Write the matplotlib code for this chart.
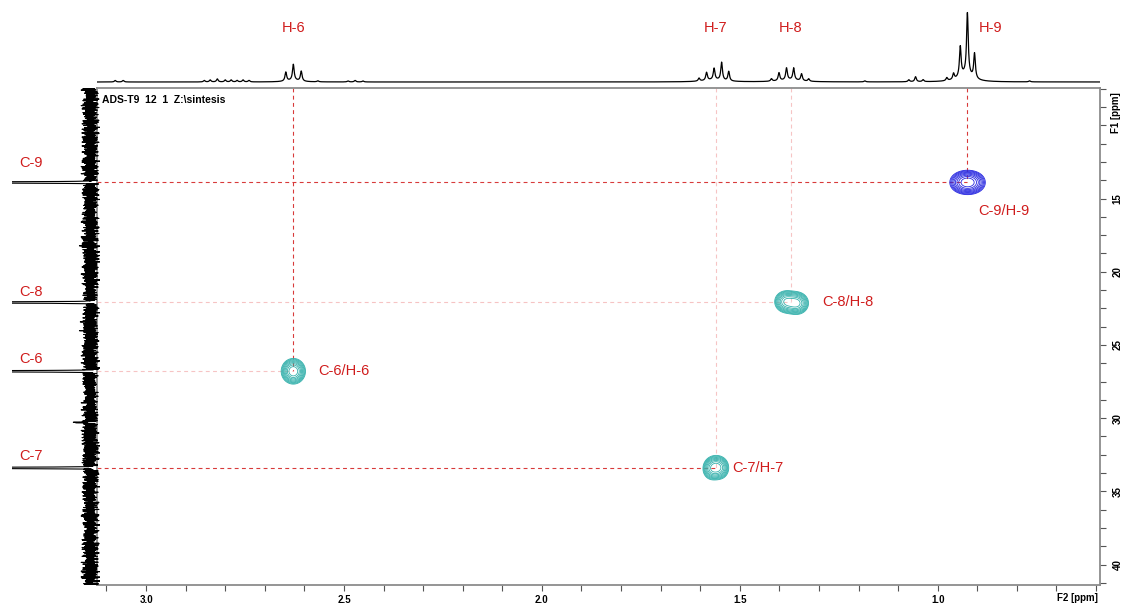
import numpy as np
import matplotlib
matplotlib.use("Agg")
import matplotlib.pyplot as plt
from matplotlib.ticker import MultipleLocator, FixedLocator
from matplotlib.transforms import blended_transform_factory as blend

plt.rcParams["font.family"] = ["Liberation Sans", "DejaVu Sans"]

# ---------------- data ----------------
# 1H projection: multiplet lines (ppm) and heights
h6_ppm = [2.647, 2.628, 2.608]
h6_int = [9, 16, 10]
h7_ppm = [1.603, 1.584, 1.565, 1.546, 1.528]
h7_int = [3, 8, 11.5, 18, 9.5]
h8_ppm = [1.420, 1.401, 1.382, 1.364, 1.344, 1.326]
h8_int = [2.5, 8, 12, 12, 7, 2.5]
h9_ppm = [0.977, 0.960, 0.943, 0.925, 0.907]
h9_int = [3, 6, 30, 62, 25]
minor_ppm = [3.078, 3.058, 2.853, 2.838, 2.820, 2.800, 2.785, 2.770, 2.755,
             2.740, 2.566, 2.490, 2.472, 2.452, 1.184, 1.073, 1.056, 1.037, 0.768]
minor_int = [1.5, 1.5, 1.5, 2, 3, 2, 2, 1.5, 2, 1.5, 1, 1, 1.5, 1, 1, 2, 5, 2, 1]
broad_ppm = [0.930, 1.565, 1.373, 2.628]
broad_int = [7, 2, 2, 1.5]
broad_w = [0.020, 0.030, 0.030, 0.020]

# 13C projection
c_labels = ["C-9", "C-8", "C-6", "C-7"]
c_ppm = [13.9, 22.1, 26.8, 33.4]
c_int = [300, 300, 300, 300]
c_extra_ppm = [30.3]
c_extra_int = [14]
c_noise_a = [3, -4, 6, -2, 5, -6, 1, 4, -5, 2, -3, 7, -1, -6, 3, 5, -4, 0, 6,
             -3, 2, -7, 4, -2, 5, -5, 1, 3, -6, 4, -1, 6, -4, 2, -2, 5, -3]
c_noise_b = [2, -1, -3, 1, 3, -2, 0, 2, -3, 1, -1, 3, -2, 2, 0, -3, 1, 2, -1,
             -2, 3, 0, -2]
c_noise_c = [-1, 2, 0, -2, 1, 3, -3, 0, 2, -1, -2, 1, 0, 3, -1, -3, 2, 1, -2,
             0, 1, -1, 3, -2, 0, 2, -3, 1, -1]

# HSQC cross peaks
h_labels = ["H-9", "H-8", "H-6", "H-7"]
xpk_labels = ["C-9/H-9", "C-8/H-8", "C-6/H-6", "C-7/H-7"]
xpk_h = [0.925, 1.371, 2.628, 1.561]
xpk_c = [13.9, 22.1, 26.8, 33.4]
xpk_sign = [1, -1, -1, -1]          # CH3 positive, CH2 negative (edited HSQC)
xpk_dh = [[-0.018, 0.0, 0.018], [-0.015, 0.012], [0.0], [-0.013, 0.0, 0.012]]
xpk_dc = [[0.0, 0.0, 0.0], [0.05, -0.05], [0.0], [0.0, -0.05, 0.05]]
xpk_w = [[0.5, 1.0, 0.45], [1.0, 0.9], [1.0], [0.8, 1.0, 0.8]]
xpk_sx = [0.016, 0.014, 0.014, 0.011]
xpk_sy = [0.38, 0.36, 0.40, 0.38]

f2_lim = (3.124, 0.59)
f1_lim = (41.4, 7.45)

# ---------------- figure ----------------
W, H = 1125, 606
fig = plt.figure(figsize=(W / 100, H / 100), dpi=100)
ax = fig.add_axes([97 / W, 1 - 585 / H, 1003 / W, 497 / H])
ax_top = fig.add_axes([97 / W, 1 - 86 / H, 1003 / W, 78 / H])
ax_left = fig.add_axes([12 / W, 1 - 585 / H, 88 / W, 497 / H])

red = "#d01c1c"
dark_dash = "#d83a3a"
faint_dash = "#f6c4c4"

# ---- 1H projection ----
def lor(x, x0, h, w):
    return h * w ** 2 / ((x - x0) ** 2 + w ** 2)

def gau(x, x0, h, s):
    return h * np.exp(-((x - x0) ** 2) / (2 * s ** 2))

xg = np.linspace(f2_lim[0], f2_lim[1], 8000)
spec = np.zeros_like(xg)
for pp, ii in [(h6_ppm, h6_int), (h7_ppm, h7_int), (h8_ppm, h8_int),
               (h9_ppm, h9_int), (minor_ppm, minor_int)]:
    for p, i in zip(pp, ii):
        spec += lor(xg, p, i, 0.0025)
for p, i, w in zip(broad_ppm, broad_int, broad_w):
    spec += lor(xg, p, i, w)
ax_top.plot(xg, spec, color="black", lw=0.9)
ax_top.set_xlim(*f2_lim)
ax_top.set_ylim(-4, 74)
ax_top.axis("off")

top_label_ppm = [0.925, 1.371, 2.628, 1.561]
top_label_dx = [23, 0, 0, 0]
for lab, p, dx in zip(h_labels, top_label_ppm, top_label_dx):
    ax_top.annotate(lab, xy=(p, 0.744), xycoords=blend(ax_top.transData, ax_top.transAxes),
                    xytext=(dx, 0), textcoords="offset pixels",
                    ha="center", va="center", color=red, fontsize=10.5)

# ---- 13C projection ----
yg = np.linspace(f1_lim[1], f1_lim[0], 2600)
n = len(yg)
cspec = 0.85 * (np.resize(np.array(c_noise_a, float), n)
                + np.resize(np.array(c_noise_b, float), n)
                + np.resize(np.array(c_noise_c, float), n))
for p, i in zip(c_ppm, c_int):
    cspec += gau(yg, p, i, 0.03)
for p, i in zip(c_extra_ppm, c_extra_int):
    cspec += gau(yg, p, i, 0.03)
ax_left.plot(cspec, yg, color="black", lw=0.8)
ax_left.set_xlim(78.5, -9.5)
ax_left.set_ylim(*f1_lim)
ax_left.axis("off")
ax_left.patch.set_visible(False)

c_label_dy = [19, 10, 12, 12]
for lab, p, dy in zip(c_labels, c_ppm, c_label_dy):
    ax_left.annotate(lab, xy=(0.085, p), xycoords=blend(ax_left.transAxes, ax_left.transData),
                     xytext=(0, dy), textcoords="offset pixels",
                     ha="left", va="center", color=red, fontsize=10.5)

# ---- 2D HSQC ----
X, Y = np.meshgrid(np.linspace(f2_lim[0], f2_lim[1], 1600),
                   np.linspace(f1_lim[1], f1_lim[0], 900))
Z = np.zeros_like(X)
for h, c, s, dhs, dcs, ws, sx, sy in zip(xpk_h, xpk_c, xpk_sign, xpk_dh, xpk_dc,
                                          xpk_w, xpk_sx, xpk_sy):
    z = np.zeros_like(X)
    for dh, dc, w in zip(dhs, dcs, ws):
        z += w * np.exp(-((X - h - dh) ** 2) / (2 * sx ** 2) - ((Y - c - dc) ** 2) / (2 * sy ** 2))
    Z += s * z / z.max()

levels = [0.09 * 1.3 ** k for k in range(9)]
ax.contour(X, Y, Z, levels=levels, colors="#2525e0", linewidths=0.6)
ax.contour(X, Y, Z, levels=sorted(-v for v in levels), colors="#33b0ab",
           linewidths=0.6, linestyles="solid")

# dashed correlation lines
v_dark = [True, False, True, False]
h_dark = [True, False, False, True]
for h, c, vd, hd in zip(xpk_h, xpk_c, v_dark, h_dark):
    ax.plot([h, h], [f1_lim[1], c], color=dark_dash if vd else faint_dash,
            lw=0.8, ls=(0, (3.5, 3)), zorder=1)
    ax.plot([f2_lim[0], h], [c, c], color=dark_dash if hd else faint_dash,
            lw=0.8, ls=(0, (3.5, 3)), zorder=1)

xpk_off = [(11, -29), (31, 0), (25, 0), (17, 0)]
for lab, h, c, off in zip(xpk_labels, xpk_h, xpk_c, xpk_off):
    ax.annotate(lab, xy=(h, c), xytext=off, textcoords="offset pixels",
                ha="left", va="center", color=red, fontsize=10.5)

ax.text(0.005, 0.976, r"ADS-T9  12  1  Z:\sintesis", transform=ax.transAxes,
        fontsize=7.5, fontweight="bold", va="center", ha="left")

ax.set_xlim(*f2_lim)
ax.set_ylim(*f1_lim)
ax.xaxis.set_major_locator(FixedLocator([3.0, 2.5, 2.0, 1.5, 1.0]))
ax.xaxis.set_minor_locator(MultipleLocator(0.1))
ax.yaxis.set_major_locator(FixedLocator([15, 20, 25, 30, 35, 40]))
ax.yaxis.set_minor_locator(MultipleLocator(1.25))
ax.xaxis.set_major_formatter(plt.FuncFormatter(lambda v, p: f"{v:.1f}"))
ax.yaxis.tick_right()
ax.tick_params(which="both", direction="out", length=4, width=0.8, color="#555555",
               labelsize=7)
ax.tick_params(axis="x", which="both", pad=3)
ax.tick_params(axis="y", which="both", pad=5, labelrotation=90)
for t in ax.get_xticklabels() + ax.get_yticklabels():
    t.set_fontweight("bold")
for t in ax.get_yticklabels():
    t.set_va("center")
for sp in ax.spines.values():
    sp.set_color("#8c8c8c")
    sp.set_linewidth(1.3)

ax.annotate("F2 [ppm]", xy=(0.978, 0), xycoords="axes fraction", xytext=(0, -13),
            textcoords="offset pixels", ha="center", va="center", fontsize=7,
            fontweight="bold")
ax.annotate("F1 [ppm]", xy=(1, 0.95), xycoords="axes fraction", xytext=(16, 0),
            textcoords="offset pixels", ha="center", va="center", fontsize=7,
            fontweight="bold", rotation=90)

fig.savefig("out.png", dpi=100)
